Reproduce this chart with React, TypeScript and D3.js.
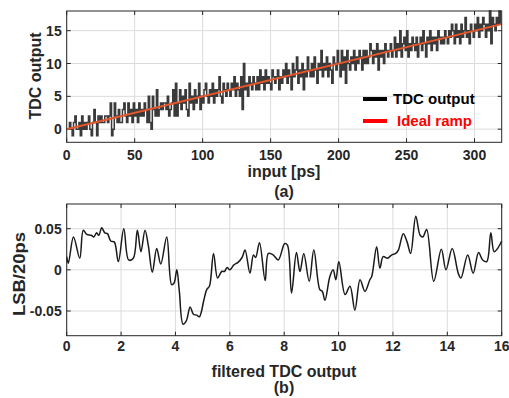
import React, { useEffect, useRef } from "react";
import * as d3 from "d3";

// panel (a): TDC output codes, one sample per ps (0..319)
const tdcCodes = [
  0, 0, 1, 0, -1, 1, 2, 0, 0, 1, -1, 2, 0, 1, 0, 1, 2, 0, -1, 1,
  3, 1, -1, 2, 1, 2, 1, 1, 2, 2, 1, 2, 4, -1, 0, 4, 2, 1, 3, 1,
  1, 3, 4, 2, 1, 4, 2, 3, 1, 4, 2, 3, 1, 4, 2, 3, 2, 4, 3, 1,
  5, 1, 0, 5, 3, 2, 6, 2, 3, 4, 3, 4, 4, 3, 5, 2, 3, 4, 6, 2,
  7, 2, 4, 6, 3, 5, 4, 6, 3, 2, 7, 4, 5, 3, 6, 4, 5, 7, 3, 5,
  4, 6, 7, 5, 4, 6, 5, 7, 4, 6, 5, 6, 8, 5, 4, 7, 6, 5, 7, 6,
  5, 7, 6, 8, 5, 7, 6, 5, 8, 3, 10, 6, 7, 5, 8, 7, 6, 8, 7, 6,
  8, 6, 9, 7, 8, 6, 9, 7, 8, 7, 6, 9, 8, 7, 8, 9, 6, 8, 7, 9,
  8, 10, 7, 9, 8, 6, 10, 8, 9, 11, 7, 9, 8, 10, 6, 9, 8, 11, 9, 8,
  10, 8, 11, 9, 7, 10, 9, 12, 8, 10, 9, 11, 8, 10, 9, 7, 11, 10, 9, 12,
  10, 8, 12, 9, 11, 7, 12, 10, 9, 11, 10, 12, 9, 11, 10, 12, 11, 9, 12, 10,
  12, 10, 11, 13, 12, 10, 12, 11, 13, 9, 12, 11, 12, 10, 13, 12, 11, 12, 13, 11,
  12, 14, 11, 13, 12, 15, 11, 13, 14, 12, 15, 11, 13, 12, 14, 13, 12, 14, 11, 13,
  14, 12, 15, 13, 11, 14, 13, 15, 12, 14, 13, 14, 12, 15, 14, 13, 14, 13, 15, 14,
  13, 15, 14, 16, 15, 13, 16, 14, 15, 13, 16, 14, 15, 17, 14, 15, 13, 16, 15, 14,
  16, 15, 17, 14, 16, 15, 17, 16, 14, 16, 15, 18, 13, 17, 16, 15, 17, 16, 18, 16,
];
const rampX = [0, 320];
const rampY = [0, 16];
const inputTicks = [0, 50, 100, 150, 200, 250, 300];
const codeTicks = [0, 5, 10, 15];

// panel (b): error vs filtered TDC output
const errX = [
  0, 0.06, 0.25, 0.48, 0.61, 0.74, 0.9, 1.0, 1.1, 1.18, 1.29, 1.4, 1.5, 1.62, 1.75, 1.9,
  2.1, 2.28, 2.45, 2.6, 2.73, 2.88, 3.0, 3.15, 3.31, 3.46, 3.68, 3.86, 3.95, 4.05, 4.14,
  4.28, 4.4, 4.54, 4.66, 4.78, 4.88, 5.05, 5.15, 5.25, 5.4, 5.55, 5.7, 5.8, 5.9, 6.0,
  6.15, 6.3, 6.45, 6.56, 6.74, 6.87, 6.95, 7.09, 7.3, 7.42, 7.6, 7.78, 8.02, 8.12, 8.27,
  8.45, 8.58, 8.72, 8.92, 9.09, 9.31, 9.4, 9.5, 9.68, 9.8, 9.9, 10.01, 10.24, 10.42, 10.6,
  10.79, 10.97, 11.15, 11.22, 11.4, 11.52, 11.64, 11.8, 11.95, 12.1, 12.2, 12.38, 12.52,
  12.65, 12.84, 13.0, 13.1, 13.24, 13.5, 13.78, 13.95, 14.18, 14.4, 14.5, 14.75, 14.95,
  15.15, 15.3, 15.45, 15.6, 15.72, 15.85, 16.0,
];
const errY = [
  0.016, 0.008, 0.04, 0.014, 0.048, 0.043, 0.042, 0.04, 0.045, 0.042, 0.051, 0.045, 0.044, 0.035, 0.034, 0.01,
  0.05, 0.012, 0.014, 0.048, 0.022, 0.048, 0.03, -0.003, 0.026, 0.007, 0.04, -0.018, -0.016, 0.0, -0.025,
  -0.066, -0.062, -0.045, -0.054, -0.055, -0.057, -0.036, -0.024, -0.02, 0.02, -0.01, -0.002, -0.002, 0.003, 0.0,
  0.006, 0.009, 0.015, 0.024, -0.004, 0.018, 0.015, 0.033, -0.013, 0.02, 0.018, 0.012, 0.032, 0.03, -0.028,
  0.021, -0.002, 0.02, -0.014, 0.024, -0.024, -0.026, -0.037, -0.008, 0.0, -0.012, 0.01, -0.03, -0.02, -0.049,
  -0.012, -0.026, -0.012, -0.008, 0.028, 0.002, 0.016, 0.014, 0.018, 0.02, 0.024, 0.044, 0.034,
  0.02, 0.065, 0.042, 0.04, 0.049, -0.014, 0.025, 0.0, 0.026, -0.004, -0.01, 0.018, -0.004,
  0.021, 0.012, 0.01, 0.045, 0.022, 0.026, 0.035,
];
const filtTicks = [0, 2, 4, 6, 8, 10, 12, 14, 16];
const errTicks = [-0.05, 0, 0.05];

const width = 509;
const height = 398;
const font = "'Liberation Sans', Arial, sans-serif";

function drawPanel(svg, opts) {
  const { x, y, xTicks, yTicks, yFmt, tickDy } = opts;
  const [x0, x1] = x.range();
  const [y0, y1] = y.range();
  const g = svg.append("g");

  g.selectAll(".vg").data(xTicks).join("line")
    .attr("x1", d => x(d)).attr("x2", d => x(d))
    .attr("y1", y0).attr("y2", y1)
    .attr("stroke", "#dcdcdc").attr("stroke-width", 1);
  g.selectAll(".hg").data(yTicks).join("line")
    .attr("x1", x0).attr("x2", x1)
    .attr("y1", d => y(d)).attr("y2", d => y(d))
    .attr("stroke", "#dcdcdc").attr("stroke-width", 1);

  // inward ticks on all four sides
  const t = 4;
  xTicks.forEach(v => {
    g.append("line").attr("x1", x(v)).attr("x2", x(v)).attr("y1", y0).attr("y2", y0 - t).attr("stroke", "#262626");
    g.append("line").attr("x1", x(v)).attr("x2", x(v)).attr("y1", y1).attr("y2", y1 + t).attr("stroke", "#262626");
  });
  yTicks.forEach(v => {
    g.append("line").attr("x1", x0).attr("x2", x0 + t).attr("y1", y(v)).attr("y2", y(v)).attr("stroke", "#262626");
    g.append("line").attr("x1", x1).attr("x2", x1 - t).attr("y1", y(v)).attr("y2", y(v)).attr("stroke", "#262626");
  });

  g.selectAll(".xl").data(xTicks).join("text")
    .attr("x", d => x(d)).attr("y", y0 + tickDy)
    .attr("text-anchor", "middle")
    .attr("font-family", font).attr("font-weight", "bold").attr("font-size", 14)
    .attr("fill", "#262626")
    .text(d => String(d));
  g.selectAll(".yl").data(yTicks).join("text")
    .attr("x", x0 - 5).attr("y", d => y(d) + 5)
    .attr("text-anchor", "end")
    .attr("font-family", font).attr("font-weight", "bold").attr("font-size", 14)
    .attr("fill", "#262626")
    .text(yFmt);
  return g;
}

function label(svg, text, x, y, opts = {}) {
  const t = svg.append("text")
    .attr("text-anchor", "middle")
    .attr("font-family", font).attr("font-weight", "bold")
    .attr("font-size", opts.size || 16).attr("fill", "#262626")
    .text(text);
  if (opts.rotate) t.attr("transform", `translate(${x},${y}) rotate(-90)`);
  else t.attr("x", x).attr("y", y);
  if (opts.len) t.attr("textLength", opts.len).attr("lengthAdjust", "spacingAndGlyphs");
  return t;
}

function Chart() {
  const ref = useRef(null);

  useEffect(() => {
    const svg = d3.select(ref.current);
    svg.selectAll("*").remove();

    // ---- panel (a)
    const xa = d3.scaleLinear([0, 320], [66.7, 501.7]);
    const ya = d3.scaleLinear([-2, 18], [142.3, 11]);
    drawPanel(svg, { x: xa, y: ya, xTicks: inputTicks, yTicks: codeTicks, yFmt: d => String(d), tickDy: 18 });

    const tdc = tdcCodes.map((v, i) => [i, v]);
    svg.append("path")
      .attr("d", d3.line().x(d => xa(d[0])).y(d => ya(d[1])).curve(d3.curveStepAfter)(tdc))
      .attr("fill", "none").attr("stroke", "#3a3a3a").attr("stroke-width", 1.5);
    svg.append("path")
      .attr("d", d3.line().x(d => xa(d[0])).y(d => ya(d[1]))(rampX.map((v, i) => [v, rampY[i]])))
      .attr("fill", "none").attr("stroke", "#e4572c").attr("stroke-width", 2);

    svg.append("rect").attr("x", 66.7).attr("y", 11).attr("width", 435).attr("height", 131.3)
      .attr("fill", "none").attr("stroke", "#262626").attr("stroke-width", 1);

    // legend
    const leg = [["TDC output", "#000", 99, 393], ["Ideal ramp", "#ff0000", 121, 397]];
    leg.forEach(([name, c, ly, tx]) => {
      svg.append("line").attr("x1", 363).attr("x2", 387).attr("y1", ly).attr("y2", ly)
        .attr("stroke", c).attr("stroke-width", 4);
      svg.append("text").attr("x", tx).attr("y", ly + 5)
        .attr("font-family", font).attr("font-weight", "bold").attr("font-size", 15)
        .attr("fill", c).text(name);
    });

    label(svg, "input [ps]", 284, 177);
    label(svg, "(a)", 284, 197);
    label(svg, "TDC output", 41, 76, { rotate: true });

    // ---- panel (b)
    const xb = d3.scaleLinear([0, 16], [66.7, 501.7]);
    const yb = d3.scaleLinear([-0.08, 0.08], [335.7, 204]);
    drawPanel(svg, { x: xb, y: yb, xTicks: filtTicks, yTicks: errTicks, yFmt: d => (d === 0 ? "0" : String(d)), tickDy: 15 });

    const err = errX.map((v, i) => [v, errY[i]]);
    svg.append("path")
      .attr("d", d3.line().x(d => xb(d[0])).y(d => yb(d[1])).curve(d3.curveCatmullRom.alpha(0.5))(err))
      .attr("fill", "none").attr("stroke", "#1a1a1a").attr("stroke-width", 1.5);

    svg.append("rect").attr("x", 66.7).attr("y", 204).attr("width", 435).attr("height", 131.7)
      .attr("fill", "none").attr("stroke", "#262626").attr("stroke-width", 1);

    label(svg, "filtered TDC output", 284, 377);
    label(svg, "(b)", 284, 393);
    label(svg, "LSB/20ps", 25, 274, { rotate: true, size: 17, len: 84 });
  }, []);

  return (
    <svg ref={ref} width={width} height={height}
      style={{ position: "absolute", left: 0, top: 0, background: "#fff" }} />
  );
}

export default function App() {
  return <Chart />;
}
